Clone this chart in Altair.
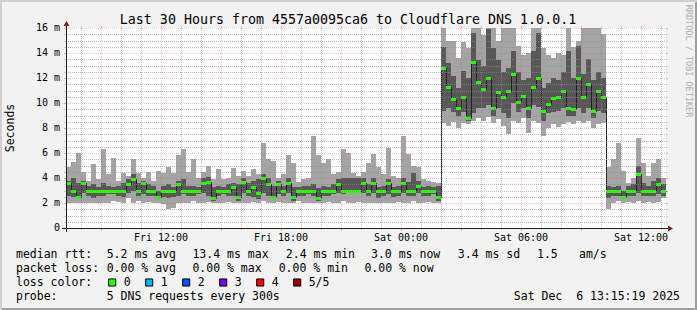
import altair as alt
import pandas as pd

# ---------------- data: SmokePing median RTT and smoke bands (ms), 15-minute bins from Fri 07:15 ----------------
BIN_HOURS = 0.25
median = [3.6, 3.0, 2.5, 3.6, 3.0, 3.0, 3.0, 3.0, 3.0, 3.0, 3.0, 3.0, 3.5, 3.9, 3.0, 3.6, 3.0, 3.0, 2.5, 3.0,
          3.0, 3.0, 3.5, 3.0, 3.0, 3.0, 3.0, 3.6, 3.7, 2.4, 3.0, 3.0, 3.0, 3.3, 2.5, 3.7, 3.0, 3.3, 2.8, 4.0,
          3.5, 2.5, 3.5, 3.0, 3.6, 2.5, 3.0, 3.0, 3.0, 3.0, 2.4, 3.0, 3.0, 3.0, 3.5, 3.0, 3.0, 3.0, 3.0, 3.6,
          3.0, 3.6, 3.0, 3.0, 3.6, 3.0, 3.0, 3.6, 3.0, 3.0, 3.4, 3.0, 3.0, 3.0, 2.5,
          12.8, 11.3, 10.3, 9.6, 10.5, 8.8, 13.3, 11.7, 11.1, 12.0, 9.6, 10.9, 10.5, 11.0, 12.3, 10.1, 10.6,
          9.6, 11.3, 12.0, 9.4, 9.9, 10.4, 10.5, 11.0, 9.6, 9.5, 12.0, 10.5, 11.5, 9.4, 11.0, 10.5,
          3.0, 3.0, 3.0, 2.5, 3.0, 3.0, 4.3, 3.0, 3.0, 3.0, 3.5, 3.0]
ping_min = [2.0, 2.0, 2.0, 2.0, 2.0, 2.0, 2.0, 2.0, 2.0, 2.2, 2.1, 2.0, 2.4, 2.0, 2.2, 2.0, 2.1, 2.0, 2.0, 1.9,
            1.5, 1.6, 2.0, 2.0, 2.0, 2.2, 2.0, 2.0, 2.1, 2.0, 2.0, 2.0, 2.1, 2.0, 2.0, 2.0, 2.0, 2.1, 2.0, 2.2,
            2.0, 2.0, 2.1, 2.0, 2.0, 2.0, 2.2, 2.0, 2.0, 2.0, 2.0, 2.0, 2.1, 2.0, 2.0, 2.2, 2.0, 2.0, 2.1, 2.0,
            2.0, 2.0, 2.0, 2.0, 2.0, 2.0, 2.1, 2.0, 2.0, 2.2, 2.0, 2.0, 2.1, 2.0, 2.0,
            8.4, 8.2, 8.5, 8.0, 8.4, 8.3, 8.6, 8.8, 8.6, 8.9, 8.4, 8.7, 8.2, 7.5, 8.6, 8.4, 8.8,
            7.6, 8.6, 8.4, 7.4, 8.0, 8.3, 8.1, 8.3, 8.5, 8.3, 8.6, 8.4, 8.6, 8.0, 8.3, 8.4,
            1.5, 2.0, 2.2, 2.0, 2.1, 2.0, 2.2, 2.0, 2.1, 2.0, 2.1, 2.4]
ping_lo = [2.6, 2.5, 2.3, 2.8, 2.6, 2.4, 2.6, 2.6, 2.7, 2.7, 2.6, 2.5, 2.8, 3.0, 2.6, 2.7, 2.6, 2.6, 2.3, 2.5,
           2.4, 2.5, 2.6, 2.7, 2.6, 2.6, 2.7, 2.8, 2.6, 2.2, 2.6, 2.7, 2.6, 2.6, 2.2, 2.8, 2.6, 2.5, 2.3, 2.8,
           2.6, 2.3, 2.7, 2.6, 2.8, 2.2, 2.6, 2.6, 2.7, 2.6, 2.2, 2.6, 2.6, 2.7, 2.8, 2.7, 3.0, 3.0, 2.9, 2.8,
           2.6, 2.8, 2.4, 2.6, 2.7, 2.5, 2.6, 2.8, 2.6, 2.6, 2.8, 2.6, 2.6, 2.7, 2.2,
           9.4, 9.6, 9.3, 9.0, 9.3, 8.6, 9.2, 9.6, 9.6, 9.8, 9.0, 9.6, 9.2, 8.8, 10.0, 9.3, 9.6,
           8.8, 9.8, 9.7, 8.6, 9.2, 9.3, 9.4, 9.6, 9.0, 9.0, 9.6, 9.2, 9.6, 8.8, 9.4, 9.2,
           2.4, 2.6, 2.6, 2.3, 2.6, 2.6, 2.8, 2.6, 2.6, 2.6, 2.7, 2.6]
ping_hi = [3.8, 4.0, 3.6, 3.8, 3.4, 3.5, 3.3, 3.6, 3.4, 3.3, 3.4, 3.6, 3.9, 4.3, 3.6, 3.8, 3.5, 3.4, 3.0, 3.4,
           3.5, 3.3, 3.8, 3.9, 3.4, 3.4, 3.3, 4.0, 4.1, 3.3, 3.4, 3.3, 3.5, 3.6, 3.5, 4.0, 3.6, 3.8, 3.9, 4.3,
           4.0, 3.4, 3.8, 3.4, 4.0, 3.3, 3.3, 3.4, 3.4, 3.5, 3.2, 3.4, 3.3, 3.5, 3.9, 4.0, 4.0, 4.0, 4.0, 4.0,
           3.5, 4.0, 3.3, 3.4, 3.9, 3.3, 3.4, 4.0, 3.7, 4.4, 3.8, 3.3, 3.4, 3.3, 3.4,
           14.5, 13.2, 12.2, 11.2, 12.6, 12.0, 15.6, 13.4, 13.0, 15.9, 14.4, 13.4, 12.5, 12.8, 14.2, 12.5, 11.8,
           12.0, 14.2, 15.6, 11.2, 11.6, 12.0, 11.8, 12.5, 14.2, 12.0, 14.6, 12.3, 13.5, 11.8, 12.5, 12.0,
           3.4, 3.3, 3.4, 3.0, 3.4, 3.5, 5.0, 3.6, 3.4, 3.8, 4.0, 3.5]
ping_max = [4.9, 5.3, 6.0, 4.5, 3.8, 5.1, 3.9, 6.3, 4.3, 5.6, 3.8, 4.4, 4.2, 5.5, 4.4, 4.0, 4.5, 3.8, 4.6, 4.4,
            4.9, 4.4, 5.8, 6.3, 4.5, 5.5, 4.0, 4.5, 5.0, 3.9, 4.7, 3.9, 4.0, 4.8, 4.2, 4.6, 4.2, 4.7, 4.3, 6.8,
            5.5, 5.4, 4.0, 4.3, 5.8, 5.2, 3.7, 3.9, 4.0, 7.4, 5.8, 5.2, 5.5, 4.3, 4.5, 6.3, 6.0, 4.4, 4.2, 4.5,
            5.2, 5.9, 4.9, 4.3, 6.4, 4.2, 4.0, 7.4, 5.9, 5.0, 4.9, 3.9, 3.8, 3.7, 3.6,
            16.0, 15.0, 15.0, 13.6, 14.9, 14.4, 16.0, 16.0, 15.4, 16.0, 16.0, 15.0, 16.0, 16.0, 16.0, 14.6, 13.8,
            14.0, 16.0, 16.0, 14.4, 13.8, 13.6, 14.0, 13.8, 16.0, 14.5, 15.0, 16.0, 16.0, 16.0, 16.0, 15.5,
            4.9, 5.5, 6.8, 4.6, 3.6, 4.0, 7.2, 5.2, 4.2, 5.2, 5.5, 4.0]

ytick_values = [0, 2, 4, 6, 8, 10, 12, 14, 16]
ytick_labels = ["0\u00a0\u00a0", "2 m", "4 m", "6 m", "8 m", "10 m", "12 m", "14 m", "16 m"]
xtick_hours = [4.75, 10.75, 16.75, 22.75, 28.75]
xtick_labels = ["Fri 12:00", "Fri 18:00", "Sat 00:00", "Sat 06:00", "Sat 12:00"]
title_text = "Last 30 Hours from 4557a0095ca6 to Cloudflare DNS 1.0.0.1"
rtt_items = ["5.2 ms avg", "13.4 ms max", "2.4 ms min", "3.0 ms now", "3.4 ms sd", "1.5", "am/s"]
loss_items = ["0.00 % avg", "0.00 % max", "0.00 % min", "0.00 % now"]
loss_labels = ["0", "1", "2", "3", "4", "5/5"]
loss_colors = ["#26ff00", "#00b8ff", "#0059ff", "#7e00ff", "#ff0000", "#a10000"]
probe_text = "5 DNS requests every 300s"
stamp_text = "Sat Dec \u00a06 13:15:19 2025"

# ---------------- layout ----------------
W, H = 600, 200
OX, OY = 66, 28
FONT = "DejaVu Sans Mono"
xs = alt.Scale(domain=[0, 30], nice=False, zero=False, round=True)
ys = alt.Scale(domain=[0, 16], nice=False, zero=False, round=True)

n = len(median)
df = pd.DataFrame({
    "t0": [i * BIN_HOURS for i in range(n)],
    "med": median, "pmin": ping_min, "plo": ping_lo, "phi": ping_hi, "pmax": ping_max,
})
df["t1"] = df["t0"] + BIN_HOURS

X0 = alt.X("t0:Q", scale=xs, axis=None)

light = alt.Chart(df).mark_rect(color="#a4a4a4").encode(
    x=X0, x2="t1:Q", y=alt.Y("pmin:Q", scale=ys, axis=None), y2="pmax:Q")
dark = alt.Chart(df).mark_rect(color="#585858").encode(
    x=X0, x2="t1:Q", y=alt.Y("plo:Q", scale=ys, axis=None), y2="phi:Q")
line_df = pd.concat([df[["t0", "med"]],
                     pd.DataFrame({"t0": [n * BIN_HOURS], "med": [median[-1]]})], ignore_index=True)
medline = alt.Chart(line_df).mark_line(interpolate="step-after", color="#202020", strokeWidth=1,
                                       xOffset=0.5, yOffset=0.5).encode(
    x=X0, y=alt.Y("med:Q", scale=ys, axis=None))
green = alt.Chart(df).mark_rule(color=loss_colors[0], strokeWidth=3, yOffset=0.5).encode(
    x=X0, x2="t1:Q", y=alt.Y("med:Q", scale=ys, axis=None))

# grid
GREY = "#8f8f8f"
RED = "#de4f4f"
h_major = [v for v in range(2, 17, 2)]
h_minor = [k / 2 for k in range(1, 32) if k % 4 != 0]
v_all = [0.75 + k for k in range(30)]
v_major = [0.75 + k for k in range(30) if (k - 1) % 3 == 0]
v_minor = [h for h in v_all if h not in v_major]


def hgrid(vals, color, op, dash=True, xa=0, xb=W):
    kw = dict(color=color, opacity=op, strokeWidth=1, yOffset=0.5)
    if dash:
        kw["strokeDash"] = [1, 1]
    return alt.Chart(pd.DataFrame({"v": vals})).mark_rule(**kw).encode(
        y=alt.Y("v:Q", scale=ys, axis=None), x=alt.value(xa), x2=alt.value(xb))


def vgrid(vals, color, op, dash=True, ya=0, yb=H):
    kw = dict(color=color, opacity=op, strokeWidth=1, xOffset=0.5)
    if dash:
        kw["strokeDash"] = [1, 1]
    return alt.Chart(pd.DataFrame({"h": vals})).mark_rule(**kw).encode(
        x=alt.X("h:Q", scale=xs, axis=None), y=alt.value(ya), y2=alt.value(yb))


grid = [
    hgrid(h_minor, GREY, 0.6), vgrid(v_minor, GREY, 0.55),
    hgrid(h_major, RED, 0.32), vgrid(v_major, RED, 0.32),
    hgrid(h_minor, GREY, 0.4, False, -2, 0), hgrid(h_minor, GREY, 0.4, False, W, W + 2),
    hgrid(h_major, RED, 0.45, False, -2, 0), hgrid(h_major, RED, 0.45, False, W, W + 2),
    vgrid(v_minor, GREY, 0.4, False, -2, 0), vgrid(v_minor, GREY, 0.4, False, H, H + 2),
    vgrid(v_major, RED, 0.45, False, -2, 0), vgrid(v_major, RED, 0.45, False, H, H + 3),
]

one = pd.DataFrame({"a": [0]})
AXIS = "#1f1f1f"
ARROW = "#801f1f"
xaxis = alt.Chart(one).mark_rule(color=AXIS, strokeWidth=1).encode(
    x=alt.value(-4), x2=alt.value(W + 4), y=alt.value(H + 0.5))
yaxis = alt.Chart(one).mark_rule(color=AXIS, strokeWidth=1).encode(
    x=alt.value(0.5), y=alt.value(H + 4), y2=alt.value(-4))
xarrow = alt.Chart(one).mark_point(shape="M-0.833,-1L0.833,0L-0.833,1Z", size=36, filled=True,
                                   color=ARROW, opacity=1).encode(x=alt.value(W + 4.5), y=alt.value(H + 0.5))
yarrow = alt.Chart(one).mark_point(shape="M-1,0.833L1,0.833L0,-0.833Z", size=36, filled=True,
                                   color=ARROW, opacity=1).encode(x=alt.value(0.5), y=alt.value(-4.5))

ylabels = alt.Chart(pd.DataFrame({"v": ytick_values, "s": ytick_labels})).mark_text(
    font=FONT, fontSize=10, align="right", baseline="middle", color="#000").encode(
    y=alt.Y("v:Q", scale=ys, axis=None), x=alt.value(-6), text="s:N")
xlabels = alt.Chart(pd.DataFrame({"h": xtick_hours, "s": xtick_labels})).mark_text(
    font=FONT, fontSize=10, align="center", baseline="middle", color="#000").encode(
    x=alt.X("h:Q", scale=xs, axis=None), y=alt.value(237.7 - OY), text="s:N")


def txt(s, x, y, size=11.5, align="left", color="#000", angle=0):
    return alt.Chart(pd.DataFrame({"s": [s]})).mark_text(
        font=FONT, fontSize=size, align=align, baseline="middle", color=color, angle=angle).encode(
        text="s:N", x=alt.value(x - OX), y=alt.value(y - OY))


texts = [
    txt(title_text, 348, 19.5, size=13.3, align="center"),
    txt("Seconds", 10.5, 128, size=11.5, align="center", angle=270),
    txt("RRDTOOL / TOBI OETIKER", 689, 61, size=8.5, align="center", color="#b0b0b0", angle=90),
]
L1, L2, L3, L4 = 254.5, 268.5, 282.5, 296.5
texts.append(txt("median rtt:", 16, L1))
for s, x in zip(rtt_items, [106.7, 192.4, 285.8, 371.0, 457.8, 537.0, 579.0]):
    texts.append(txt(s, x, L1))
texts.append(txt("packet loss:", 16, L2))
for s, x in zip(loss_items, [106.7, 192.4, 278.7, 364.4]):
    texts.append(txt(s, x, L2))
texts.append(txt("loss color:", 16, L3))
boxes = []
for i, (lab, col) in enumerate(zip(loss_labels, loss_colors)):
    cx = 112.2 + 37 * i
    boxes.append(alt.Chart(one).mark_square(size=50, fill=col, stroke="#000", strokeWidth=1, opacity=1).encode(
        x=alt.value(cx - OX), y=alt.value(L3 - OY)))
    texts.append(txt(lab, cx + 11.5, L3))
texts.append(txt("probe:", 16, L4))
texts.append(txt(probe_text, 106.7, L4))
texts.append(txt(stamp_text, 680, L4, align="right"))

# outer bevel
bevel = [
    alt.Chart(one).mark_rule(color="#cfcfcf", strokeWidth=2).encode(
        x=alt.value(-OX), x2=alt.value(697 - OX), y=alt.value(1 - OY)),
    alt.Chart(one).mark_rule(color="#cfcfcf", strokeWidth=2).encode(
        x=alt.value(1 - OX), y=alt.value(-OY), y2=alt.value(310 - OY)),
    alt.Chart(one).mark_rule(color="#9e9e9e", strokeWidth=2).encode(
        x=alt.value(2 - OX), x2=alt.value(697 - OX), y=alt.value(309 - OY)),
    alt.Chart(one).mark_rule(color="#9e9e9e", strokeWidth=2).encode(
        x=alt.value(696 - OX), y=alt.value(2 - OY), y2=alt.value(310 - OY)),
]

layers = [light, dark, medline, green] + grid + [xaxis, yaxis, xarrow, yarrow, ylabels, xlabels] + boxes + texts + bevel
chart = alt.layer(*layers).properties(
    width=W, height=H,
    padding={"left": OX, "top": OY, "right": 697 - OX - W, "bottom": 310 - OY - H},
    autosize=alt.AutoSizeParams(type="none"),
).configure(background="#f2f2f2").configure_view(fill="white", stroke=None)

chart.save("out.html", embed_options={"renderer": "svg", "actions": False})
